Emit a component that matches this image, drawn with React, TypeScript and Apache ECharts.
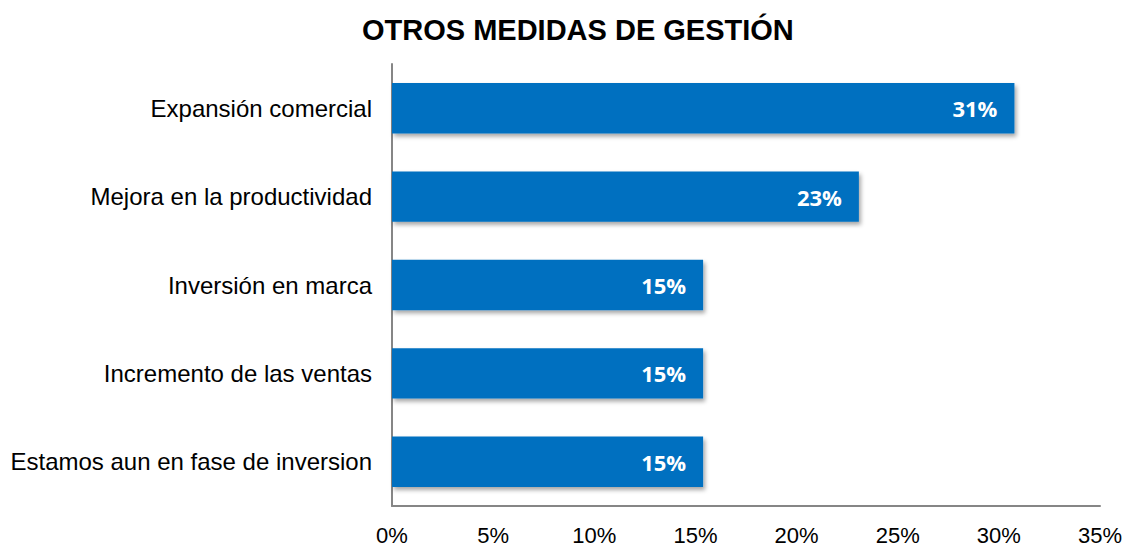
import React, { useEffect, useRef } from "react";
import * as echarts from "echarts";

const title = "OTROS MEDIDAS DE GESTIÓN";
const categories = [
  "Expansión comercial",
  "Mejora en la productividad",
  "Inversión en marca",
  "Incremento de las ventas",
  "Estamos aun en fase de inversion",
];
const values = [30.77, 23.08, 15.38, 15.38, 15.38];
const axisMax = 35;
const axisStep = 5;

export default function App() {
  const ref = useRef<HTMLDivElement>(null);
  useEffect(() => {
    document.body.style.margin = "0";
    const chart = echarts.init(ref.current!, null, { renderer: "svg" });
    chart.setOption({
      animation: false,
      backgroundColor: "#ffffff",
      title: {
        text: title,
        left: 357,
        top: 10,
        textStyle: { fontFamily: "Arial, Liberation Sans", fontSize: 29, fontWeight: "bold", color: "#000" },
      },
      grid: { left: 392, right: 26, top: 64, bottom: 40, containLabel: false },
      xAxis: {
        type: "value",
        min: 0,
        max: axisMax,
        interval: axisStep,
        axisLine: { show: true, lineStyle: { color: "#868686", width: 2 } },
        axisTick: { show: false },
        splitLine: { show: false },
        axisLabel: {
          formatter: (v: number) => v + "%",
          fontFamily: "Arial, Liberation Sans",
          fontSize: 22,
          color: "#000",
          margin: 18,
        },
      },
      yAxis: {
        type: "category",
        data: categories,
        inverse: true,
        axisLine: { show: true, lineStyle: { color: "#868686", width: 2 } },
        axisTick: { show: false },
        axisLabel: {
          fontFamily: "Arial, Liberation Sans",
          fontSize: 24,
          color: "#000",
          margin: 20,
        },
      },
      series: [
        {
          type: "bar",
          data: values,
          barCategoryGap: "43%",
          itemStyle: {
            color: "#0070C0",
            shadowColor: "rgba(0,0,0,0.35)",
            shadowBlur: 4,
            shadowOffsetX: 2,
            shadowOffsetY: 3,
          },
          label: {
            show: true,
            position: "insideRight",
            distance: 17,
            formatter: (p: any) => Math.round(p.value) + "%",
            fontFamily: "Open Sans, Noto Sans",
            fontWeight: "bold",
            fontSize: 22,
            color: "#fff",
          },
        },
      ],
    });
    return () => chart.dispose();
  }, []);
  return <div ref={ref} style={{ width: 1126, height: 546 }} />;
}
